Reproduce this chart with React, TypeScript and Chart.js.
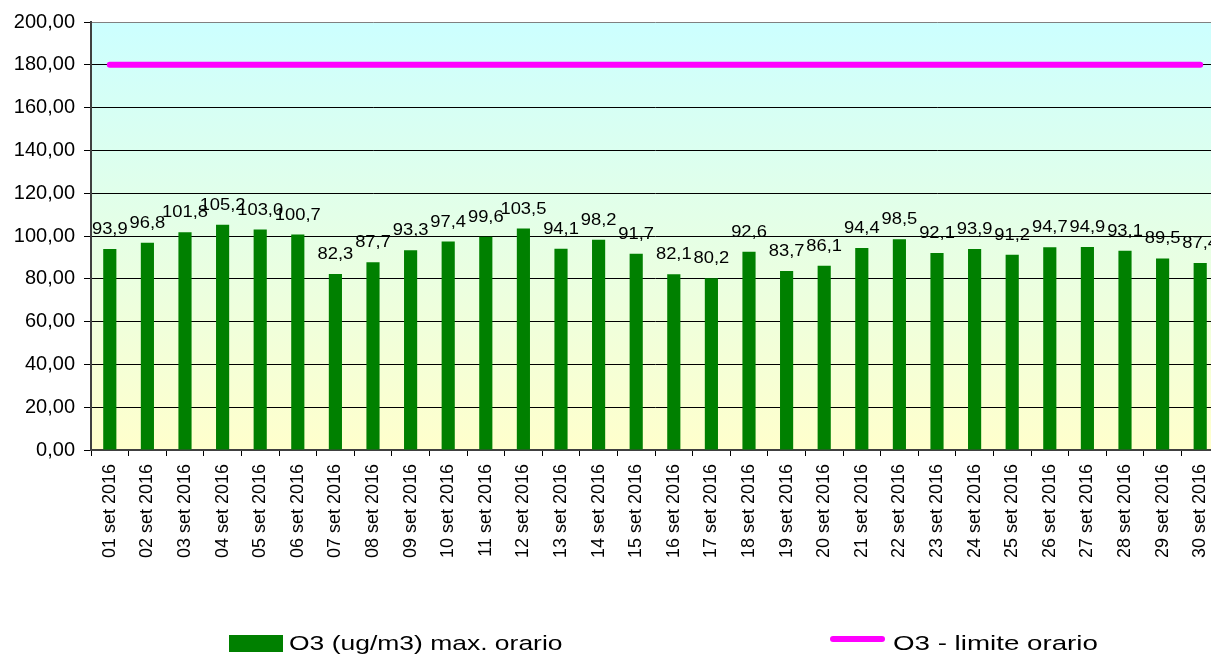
import React, { useEffect, useRef } from "react";
import { Chart, registerables } from "chart.js";

Chart.register(...registerables);

const categories = [
  "01 set 2016", "02 set 2016", "03 set 2016", "04 set 2016", "05 set 2016",
  "06 set 2016", "07 set 2016", "08 set 2016", "09 set 2016", "10 set 2016",
  "11 set 2016", "12 set 2016", "13 set 2016", "14 set 2016", "15 set 2016",
  "16 set 2016", "17 set 2016", "18 set 2016", "19 set 2016", "20 set 2016",
  "21 set 2016", "22 set 2016", "23 set 2016", "24 set 2016", "25 set 2016",
  "26 set 2016", "27 set 2016", "28 set 2016", "29 set 2016", "30 set 2016",
];

const o3Max = [
  93.9, 96.8, 101.8, 105.2, 103.0, 100.7, 82.3, 87.7, 93.3, 97.4,
  99.6, 103.5, 94.1, 98.2, 91.7, 82.1, 80.2, 92.6, 83.7, 86.1,
  94.4, 98.5, 92.1, 93.9, 91.2, 94.7, 94.9, 93.1, 89.5, 87.4,
];

const o3Limit = [
  180, 180, 180, 180, 180, 180, 180, 180, 180, 180,
  180, 180, 180, 180, 180, 180, 180, 180, 180, 180,
  180, 180, 180, 180, 180, 180, 180, 180, 180, 180,
];

const seriesNames = ["O3 (ug/m3) max. orario", "O3 - limite orario"];
const yMin = 0;
const yMax = 200;
const yStep = 20;

const FONT = "'Liberation Sans', Arial, sans-serif";
const BAR_COLOR = "#008000";
const LINE_COLOR = "#FF00FF";

const bgPlugin = {
  id: "bgGradient",
  beforeDraw(chart: any) {
    const { ctx, chartArea } = chart;
    if (!chartArea) return;
    const g = ctx.createLinearGradient(0, chartArea.top, 0, chartArea.bottom);
    g.addColorStop(0, "#CCFFFF");
    g.addColorStop(1, "#FFFFCC");
    ctx.save();
    ctx.fillStyle = g;
    ctx.fillRect(chartArea.left, chartArea.top, chartArea.right - chartArea.left, chartArea.bottom - chartArea.top);
    ctx.restore();
  },
};

const labelPlugin = {
  id: "barLabels",
  afterDatasetsDraw(chart: any) {
    const { ctx } = chart;
    const meta = chart.getDatasetMeta(0);
    const data = chart.data.datasets[0].data as number[];
    ctx.save();
    ctx.fillStyle = "#000";
    ctx.font = `17px ${FONT}`;
    ctx.textAlign = "center";
    ctx.textBaseline = "alphabetic";
    meta.data.forEach((bar: any, i: number) => {
      const txt = data[i].toFixed(1).replace(".", ",");
      ctx.save();
      ctx.translate(bar.x, bar.y - 15);
      ctx.scale(1.08, 1);
      ctx.fillText(txt, 0, 0);
      ctx.restore();
    });
    ctx.restore();
  },
};

const legendPlugin = {
  id: "customLegend",
  afterDraw(chart: any) {
    const { ctx } = chart;
    ctx.save();
    ctx.fillStyle = BAR_COLOR;
    ctx.fillRect(229, 635, 54, 17);
    ctx.strokeStyle = LINE_COLOR;
    ctx.lineWidth = 6;
    ctx.lineCap = "round";
    ctx.beginPath();
    ctx.moveTo(833, 639);
    ctx.lineTo(882, 639);
    ctx.stroke();
    ctx.fillStyle = "#000";
    ctx.font = `21px ${FONT}`;
    ctx.textAlign = "left";
    ctx.textBaseline = "alphabetic";
    const drawText = (t: string, x: number, y: number, sx: number) => {
      ctx.save();
      ctx.translate(x, y);
      ctx.scale(sx, 1);
      ctx.fillText(t, 0, 0);
      ctx.restore();
    };
    drawText(seriesNames[0], 289, 650, 1.26);
    drawText(seriesNames[1], 893, 650, 1.32);
    ctx.restore();
  },
};

export default function App() {
  const ref = useRef<HTMLCanvasElement | null>(null);

  useEffect(() => {
    if (!ref.current) return;
    const chart = new Chart(ref.current, {
      type: "bar",
      data: {
        labels: categories,
        datasets: [
          {
            type: "bar",
            label: seriesNames[0],
            data: o3Max,
            backgroundColor: BAR_COLOR,
            borderWidth: 0,
            barPercentage: 0.35,
            categoryPercentage: 1,
            order: 1,
          },
          {
            type: "line",
            label: seriesNames[1],
            data: o3Limit,
            borderColor: LINE_COLOR,
            backgroundColor: LINE_COLOR,
            borderWidth: 6,
            borderCapStyle: "round",
            pointRadius: 0,
            fill: false,
            order: 0,
          } as any,
        ],
      },
      options: {
        responsive: false,
        animation: false,
        devicePixelRatio: 1,
        layout: { padding: { top: 22, left: 0, right: 1, bottom: 0 } },
        plugins: {
          legend: { display: false },
          tooltip: { enabled: false },
        },
        scales: {
          x: {
            offset: true,
            grid: {
              offset: true,
              drawOnChartArea: false,
              drawTicks: true,
              tickLength: 6,
              color: "#000",
            },
            border: { display: true, color: "#404040", width: 2 },
            ticks: {
              autoSkip: false,
              minRotation: 90,
              maxRotation: 90,
              padding: 8,
              color: "#000",
              font: { family: FONT, size: 18 },
            },
            afterFit(scale: any) {
              scale.height = 205;
              scale.paddingLeft = 0;
              scale.paddingRight = 0;
            },
          },
          y: {
            min: yMin,
            max: yMax,
            ticks: {
              stepSize: yStep,
              color: "#000",
              padding: 9,
              font: { family: FONT, size: 20 },
              callback: (v: any) => Number(v).toFixed(2).replace(".", ","),
            },
            grid: {
              color: (c: any) => (c.tick && c.tick.value === yMax ? "#808080" : "#000"),
              tickColor: "#000",
              tickLength: 7,
              lineWidth: 1,
            },
            border: { display: true, color: "#404040", width: 2 },
            afterFit(scale: any) {
              scale.width = 91;
              scale.paddingTop = 0;
              scale.paddingBottom = 0;
            },
          },
        },
      },
      plugins: [bgPlugin, labelPlugin, legendPlugin],
    });
    return () => chart.destroy();
  }, []);

  return (
    <div
      style={{
        position: "fixed",
        left: 0,
        top: 0,
        width: 1211,
        height: 655,
        overflow: "hidden",
        background: "#fff",
      }}
    >
      <canvas ref={ref} width={1220} height={655} style={{ width: 1220, height: 655, display: "block" }} />
    </div>
  );
}
